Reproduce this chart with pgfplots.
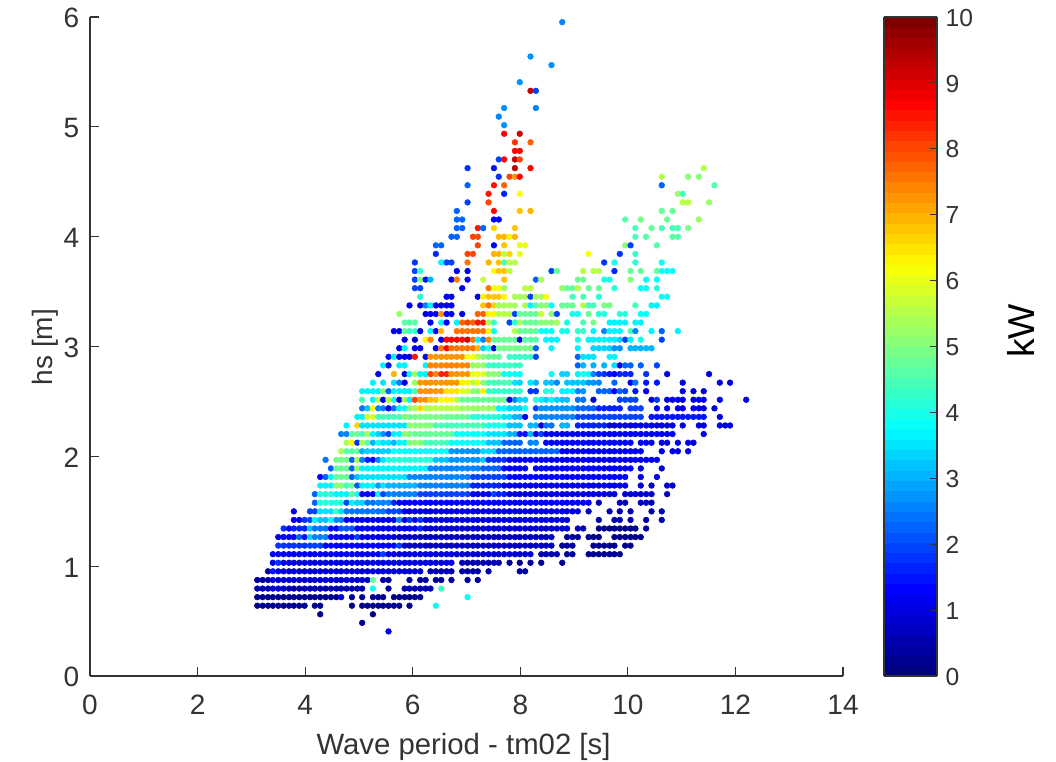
\documentclass[border=0pt]{standalone}
\usepackage{pgfplots}
\pgfplotsset{compat=1.18}
\usepackage{fontspec}
\setmainfont{Liberation Sans}
\definecolor{tx}{gray}{0.2}
\def\R#1#2{\addplot[d] table[y expr=#1]{#2};}
\pgfplotsset{colormap={jet}{rgb255(0cm)=(0,0,128) rgb255(1cm)=(0,0,255) rgb255(3cm)=(0,255,255) rgb255(5cm)=(255,255,0) rgb255(7cm)=(255,0,0) rgb255(8cm)=(128,0,0)}}
\begin{document}
\begin{tikzpicture}
\useasboundingbox (0,0) rectangle (792pt,570.75pt);
\begin{axis}[at={(67.5pt,63.75pt)},anchor=south west,scale only axis,width=564.75pt,height=494.25pt,
xmin=0,xmax=14,ymin=0,ymax=6,xtick={0,2,...,14},ytick={0,1,...,6},
axis lines*=left,tick align=inside,major tick length=6.4pt,
axis line style={color=tx,line width=1pt},tick style={color=tx,line width=0.8pt},
tick label style={font=\fontsize{21}{21}\selectfont,color=tx},
xticklabel style={yshift=-11pt},
yticklabel style={xshift=-4.5pt,yshift=-1pt},
/pgf/number format/assume math mode=true,
xlabel={Wave period - tm02 [s]},ylabel={hs [m]},
every axis x label/.style={at={(axis description cs:0.496,0)},anchor=base,yshift=-58.5pt,font=\fontsize{22}{22}\selectfont,color=tx},
every axis y label/.style={at={(axis description cs:0,0.499)},xshift=-27.75pt,rotate=90,anchor=base,font=\fontsize{21}{21}\selectfont,color=tx},
colormap={jetS}{samples of colormap=(64 of jet)},colormap access=piecewise constant,
point meta min=0,point meta max=10,
colorbar sampled,
colorbar style={at={(1.0544,0)},anchor=south west,width=39.75pt,height=494.25pt,samples=65,
 ytick={0,1,...,10},ylabel={kW},ytick pos=right,tick align=inside,major tick length=5.2pt,
 axis line style={color=tx,line width=0.8pt},tick style={color=tx,line width=0.8pt},
 every axis y label/.style={at={(axis description cs:1,0.5235)},xshift=73.5pt,rotate=90,anchor=base,font=\fontsize{28}{28}\selectfont,color=black},
 yticklabel style={font=\fontsize{18.5}{18.5}\selectfont,color=tx,xshift=3pt,yshift=-0.5pt},
 /pgf/number format/assume math mode=true},
table/row sep=crcr,table/header=false,
d/.style={scatter,only marks,mark=*,mark size=2.15pt,point meta=explicit,
 scatter/use mapped color={draw=mapped color,fill=mapped color},
 /pgfplots/table/meta index=1,/pgfplots/table/x index=0},
]
\R{.406}{5.55 1.1\\}
\R{.484}{5.06 .3\\}
\R{.562}{4.28 .3\\5.26 .3\\}
\R{.64}{3.11 .3\\3.21 .3\\3.31 .3\\3.4 .3\\3.5 .3\\3.6 .3\\3.7 .3\\3.79 .3\\3.89 .3\\3.99 .3\\4.18 .3\\4.28 .3\\4.87 .3\\5.06 .3\\5.16 .3\\5.26 .3\\5.36 .3\\5.45 .3\\5.55 .3\\5.65 .3\\5.75 .3\\5.94 .3\\6.43 3.8\\}
\R{.718}{3.11 .3\\3.21 .3\\3.31 .3\\3.4 .3\\3.5 .3\\3.6 .3\\3.7 .3\\3.79 .3\\3.89 .3\\3.99 .3\\4.09 .3\\4.18 .3\\4.28 .3\\4.38 .3\\4.48 .3\\4.58 .3\\4.67 1\\4.87 .3\\5.06 .3\\5.26 .3\\5.36 .3\\5.45 .3\\5.65 .3\\5.75 .3\\5.85 .3\\5.94 .3\\6.04 .3\\6.14 .3\\7.02 3.9\\}
\R{.796}{3.11 .5\\3.21 .5\\3.31 .5\\3.4 .8\\3.5 .8\\3.6 .8\\3.7 .5\\3.79 .5\\3.89 .5\\3.99 .5\\4.09 .5\\4.18 .5\\4.28 .5\\4.38 .5\\4.48 .5\\4.58 .5\\4.67 .5\\4.77 .5\\4.87 .5\\4.97 .5\\5.06 .5\\5.26 3.9\\5.55 .4\\5.85 .5\\5.94 .5\\6.04 .5\\6.14 .5\\6.24 .5\\6.33 .5\\6.53 4.3\\}
\R{.874}{3.11 .4\\3.21 .4\\3.31 .4\\3.4 .8\\3.5 .8\\3.6 .8\\3.7 .8\\3.79 .8\\3.89 .8\\3.99 .8\\4.09 .8\\4.18 .8\\4.28 .8\\4.38 .8\\4.48 .8\\4.58 .8\\4.67 .8\\4.77 .8\\4.87 .8\\4.97 .8\\5.06 .8\\5.16 .8\\5.26 4.7\\5.45 .4\\5.55 .4\\5.94 .4\\6.14 .4\\6.24 .4\\6.43 .4\\6.53 .4\\6.72 .4\\7.02 .4\\7.21 .4\\}
\R{.953}{3.31 .4\\3.4 1.5\\3.5 1.2\\3.6 .9\\3.7 .9\\3.79 .9\\3.89 .9\\3.99 .9\\4.09 .9\\4.18 .9\\4.28 .9\\4.38 .9\\4.48 .9\\4.58 .9\\4.67 .9\\4.77 .9\\4.87 .9\\4.97 .9\\5.06 .9\\5.16 .9\\5.26 .9\\5.36 .9\\5.45 .9\\5.55 .9\\5.65 .9\\5.75 .9\\5.85 .9\\5.94 .9\\6.04 .9\\6.14 .9\\6.33 .5\\6.43 .5\\6.53 .5\\6.63 .5\\6.72 .5\\6.92 .4\\7.02 .4\\7.12 .4\\7.21 .4\\7.41 .4\\7.99 .4\\8.09 .4\\}
\R{1.031}{3.4 1.2\\3.5 1.8\\3.6 1\\3.7 1\\3.79 1\\3.89 1\\3.99 1\\4.09 1\\4.18 1\\4.28 1\\4.38 1\\4.48 1\\4.58 1\\4.67 1\\4.77 1\\4.87 1\\4.97 1\\5.06 1\\5.16 1\\5.26 1\\5.36 1\\5.45 1\\5.55 1\\5.65 1\\5.75 1\\5.85 1\\5.94 1\\6.04 1\\6.14 1\\6.24 1\\6.33 1\\6.43 1\\6.53 1\\6.63 1\\6.72 1\\6.92 .5\\7.02 .5\\7.12 .5\\7.21 .5\\7.31 .5\\7.41 .5\\7.51 .5\\7.6 .5\\7.8 .3\\7.99 .3\\8.19 .3\\8.39 .3\\8.78 .3\\}
\R{1.109}{3.4 1.2\\3.5 1.2\\3.6 1.2\\3.7 1.2\\3.79 1.2\\3.89 1.2\\3.99 1.2\\4.09 1.2\\4.18 1.2\\4.28 1.2\\4.38 1.2\\4.48 1.2\\4.58 1.2\\4.67 1.2\\4.77 1.2\\4.87 1.2\\4.97 1.2\\5.06 1.2\\5.16 1.2\\5.26 1.2\\5.36 1.2\\5.45 2\\5.55 1\\5.65 1\\5.75 1\\5.85 1\\5.94 1\\6.04 1\\6.14 1\\6.24 1\\6.33 1\\6.43 1\\6.53 1\\6.63 1\\6.72 1\\6.82 .8\\6.92 .8\\7.02 .8\\7.12 .8\\7.21 .8\\7.31 .8\\7.41 .8\\7.51 .8\\7.6 .8\\7.7 .8\\7.8 .8\\7.9 .8\\7.99 .8\\8.09 .8\\8.19 .8\\8.39 .5\\8.48 .5\\8.58 .5\\8.68 .5\\8.87 .4\\8.97 .4\\9.27 .3\\9.36 .3\\9.46 .3\\9.56 .3\\9.66 .3\\9.75 .3\\9.85 .3\\}
\R{1.187}{3.5 1.8\\3.6 1.8\\3.7 1.8\\3.79 1.8\\3.89 1.8\\3.99 1.8\\4.09 2\\4.18 2\\4.28 2\\4.38 1.3\\4.48 1.3\\4.58 1.3\\4.67 1.3\\4.77 1.3\\4.87 1.3\\4.97 1.3\\5.06 1.3\\5.16 1.3\\5.26 1.3\\5.36 1.3\\5.45 1.3\\5.55 1.3\\5.65 1.3\\5.75 2\\5.85 .7\\5.94 .7\\6.04 .7\\6.14 .7\\6.24 .7\\6.33 .7\\6.43 .7\\6.53 .7\\6.63 .7\\6.72 .7\\6.82 .7\\6.92 .7\\7.02 .7\\7.12 .7\\7.21 .7\\7.31 .7\\7.41 .7\\7.51 .7\\7.6 .7\\7.7 .7\\7.8 .7\\7.9 .7\\7.99 .7\\8.09 .7\\8.19 .7\\8.29 .7\\8.39 .7\\8.48 .7\\8.58 .7\\8.78 .4\\8.87 .4\\8.97 .4\\9.36 .3\\9.46 .3\\9.56 .3\\9.66 .3\\9.75 .3\\9.95 .3\\10.05 .3\\}
\R{1.265}{3.5 1\\3.6 1.3\\3.7 1.3\\3.79 1.3\\3.89 2.3\\3.99 1.5\\4.09 3.3\\4.18 2.5\\4.28 2.5\\4.38 2.5\\4.48 1.3\\4.58 1.3\\4.67 1.3\\4.77 1.3\\4.87 1.3\\4.97 2\\5.06 1.2\\5.16 1.2\\5.26 1.2\\5.36 1.2\\5.45 1.2\\5.55 1.2\\5.65 1.2\\5.75 .7\\5.85 .7\\5.94 .7\\6.04 .7\\6.14 .7\\6.24 .7\\6.33 .7\\6.43 .7\\6.53 .7\\6.63 .7\\6.72 .7\\6.82 .7\\6.92 .7\\7.02 .7\\7.12 .7\\7.21 .7\\7.31 .7\\7.41 .7\\7.51 .7\\7.6 .7\\7.7 .7\\7.8 .7\\7.9 .7\\7.99 .7\\8.09 .7\\8.19 .7\\8.29 .7\\8.39 .7\\8.48 .7\\8.58 .7\\8.87 .4\\8.97 .4\\9.07 .4\\9.27 .3\\9.36 .3\\9.46 .3\\9.75 .3\\9.85 .3\\9.95 .3\\10.05 .3\\10.14 .3\\10.24 .3\\}
\R{1.343}{3.6 1.8\\3.7 1.1\\3.79 1.6\\3.89 1.6\\3.99 1.6\\4.09 3.2\\4.18 2.4\\4.28 2.4\\4.38 2.4\\4.48 1.3\\4.58 1.3\\4.67 2.1\\4.77 2.1\\4.87 2.1\\4.97 1.4\\5.06 1.4\\5.16 1.4\\5.26 1.4\\5.36 1.1\\5.45 1.1\\5.55 1.1\\5.65 1.1\\5.75 1.1\\5.85 1.1\\5.94 1.1\\6.04 1.1\\6.14 1.7\\6.24 .9\\6.33 .9\\6.43 .9\\6.53 .9\\6.63 .9\\6.72 .9\\6.82 .9\\6.92 .9\\7.02 .9\\7.12 .9\\7.21 .9\\7.31 .9\\7.41 .9\\7.51 .9\\7.6 .9\\7.7 .9\\7.8 .9\\7.9 .9\\7.99 .9\\8.09 .9\\8.19 .9\\8.29 .9\\8.39 .9\\8.48 .9\\8.58 .9\\8.68 .9\\8.78 .9\\8.87 .9\\9.07 .7\\9.17 .7\\9.46 .3\\9.56 .3\\9.66 .3\\9.75 .3\\9.85 .3\\9.95 .3\\10.05 .3\\10.14 .3\\10.34 .4\\}
\R{1.421}{3.79 1.1\\3.89 1.2\\3.99 1.8\\4.09 2\\4.18 3.6\\4.28 3.2\\4.38 3.2\\4.48 3.6\\4.58 2.6\\4.67 2.6\\4.77 1.2\\4.87 1.2\\4.97 1.2\\5.06 1.2\\5.16 1.2\\5.26 1.2\\5.36 1.2\\5.45 1.2\\5.55 1.2\\5.65 1.2\\5.75 2.5\\5.85 1\\5.94 1.8\\6.04 1.1\\6.14 1.8\\6.24 1\\6.33 1\\6.43 1\\6.53 1\\6.63 1\\6.72 1\\6.82 1\\6.92 1\\7.02 1\\7.12 1\\7.21 1\\7.31 1\\7.41 1\\7.51 1\\7.6 1\\7.7 1\\7.8 1\\7.9 1\\7.99 1\\8.09 1\\8.19 1\\8.29 1\\8.39 1\\8.48 1\\8.58 1\\8.68 1\\8.78 1\\8.87 1\\9.46 .5\\9.75 .5\\9.85 .5\\10.05 .5\\10.34 .5\\10.63 .5\\}
\R{1.499}{3.79 1.1\\4.09 2\\4.18 2\\4.28 3.5\\4.38 3.5\\4.48 3.5\\4.58 4.5\\4.67 3.5\\4.77 2.4\\4.87 2.4\\4.97 2.4\\5.06 2.4\\5.16 2.4\\5.26 2.4\\5.36 2.4\\5.45 2.4\\5.55 1.9\\5.65 1.9\\5.75 1.9\\5.85 1\\5.94 1\\6.04 1\\6.14 1\\6.24 1\\6.33 1\\6.43 1\\6.53 1\\6.63 1\\6.72 1\\6.82 1\\6.92 1\\7.02 1\\7.12 1\\7.21 1\\7.31 1\\7.41 1\\7.51 1\\7.6 1\\7.7 1\\7.8 1\\7.9 1\\7.99 1\\8.09 1\\8.19 1\\8.29 1\\8.39 1\\8.48 1\\8.58 1\\8.68 1\\8.78 1\\8.87 1\\8.97 1\\9.07 1\\9.27 .6\\9.66 .6\\9.85 .6\\10.05 .6\\10.44 .6\\10.63 .6\\}
\R{1.578}{4.18 2.2\\4.28 4.2\\4.38 4.2\\4.48 4.2\\4.58 4.2\\4.67 4.2\\4.77 2\\4.87 3.7\\4.97 3.3\\5.06 3.3\\5.16 2.4\\5.26 2.4\\5.36 2.6\\5.45 2.6\\5.55 2.6\\5.65 1.6\\5.75 1.1\\5.85 1.1\\5.94 1.1\\6.04 1.1\\6.14 1.1\\6.24 1.1\\6.33 1.1\\6.43 1.1\\6.53 1.1\\6.63 1.1\\6.72 1.1\\6.82 1.1\\6.92 1.1\\7.02 1.1\\7.12 1.1\\7.21 1.1\\7.31 1.1\\7.41 1.1\\7.51 1.1\\7.6 1.1\\7.7 1.1\\7.8 1.1\\7.9 1.1\\7.99 1.1\\8.09 1.1\\8.19 1.1\\8.29 1.1\\8.39 1.1\\8.48 1.1\\8.58 1.1\\8.68 1.1\\8.78 1.1\\8.87 1.1\\8.97 1.1\\9.07 1.1\\9.17 1.1\\9.27 1.1\\9.46 .7\\9.85 .7\\9.95 .7\\10.24 .7\\10.34 .7\\10.44 .7\\}
\R{1.656}{4.18 2.2\\4.28 4.2\\4.38 4.2\\4.48 4.2\\4.58 3.6\\4.67 3.6\\4.77 3.6\\4.87 4.8\\4.97 3.8\\5.06 1.3\\5.16 1.3\\5.26 1.3\\5.36 3.7\\5.45 2\\5.55 2.6\\5.65 2.6\\5.75 2.6\\5.85 2.6\\5.94 2.6\\6.04 2.6\\6.14 1.9\\6.24 1.9\\6.33 1.9\\6.43 1.9\\6.53 1.9\\6.63 1.9\\6.72 1.9\\6.82 1.9\\6.92 1.9\\7.02 1.9\\7.12 1.1\\7.21 1.1\\7.31 1.1\\7.41 1.1\\7.51 2\\7.6 1.6\\7.7 1.6\\7.8 1\\7.9 1\\7.99 1\\8.09 1\\8.19 1\\8.29 1\\8.39 1\\8.48 1\\8.58 1\\8.68 1\\8.78 1\\8.87 1\\8.97 1\\9.07 1\\9.17 1\\9.27 1\\9.36 1\\9.46 1\\9.56 1\\9.66 1\\9.75 1\\9.95 .8\\10.05 .8\\10.14 .8\\10.24 .8\\10.34 .8\\10.44 .8\\10.73 .7\\}
\R{1.734}{4.28 3.7\\4.38 3.7\\4.48 3.7\\4.58 5\\4.67 5\\4.77 4.5\\4.87 4.7\\4.97 2.1\\5.06 3.7\\5.16 3.7\\5.26 3.7\\5.36 2.7\\5.45 3.5\\5.55 3\\5.65 3\\5.75 3\\5.85 3\\5.94 3\\6.04 3\\6.14 2.6\\6.24 2.6\\6.33 2.6\\6.43 2.6\\6.53 2.6\\6.63 2.6\\6.72 2.6\\6.82 2.6\\6.92 2.6\\7.02 2.6\\7.12 1.7\\7.21 1.7\\7.31 1.7\\7.41 1.7\\7.51 1.7\\7.6 1.7\\7.7 1.2\\7.8 1.2\\7.9 1.2\\7.99 1.2\\8.09 1.2\\8.19 1.2\\8.29 1.2\\8.39 1.2\\8.48 1.2\\8.58 1.2\\8.68 1.2\\8.78 1.2\\8.87 1.2\\8.97 1.2\\9.07 1.2\\9.17 1.2\\9.27 1.2\\9.36 1.2\\9.46 1.2\\9.56 1.2\\9.66 1.2\\9.75 1.2\\9.85 1.2\\9.95 1.2\\10.24 .9\\10.44 .9\\10.73 .9\\10.83 .9\\}
\R{1.812}{4.28 1.3\\4.38 2.2\\4.48 3.6\\4.58 4.7\\4.67 4.7\\4.77 4.7\\4.87 2.3\\4.97 3.2\\5.06 3.5\\5.16 3.5\\5.26 3.5\\5.36 3.5\\5.45 3.5\\5.55 3.5\\5.65 3.5\\5.75 3.5\\5.85 3.5\\5.94 2.5\\6.04 2.5\\6.14 2.5\\6.24 2.5\\6.33 2.5\\6.43 2.5\\6.53 2.5\\6.63 2.5\\6.72 2.5\\6.82 2.5\\6.92 2.5\\7.02 2.5\\7.12 2\\7.21 2\\7.31 2\\7.41 2\\7.51 2\\7.6 2\\7.7 2\\7.8 1.3\\7.9 1.3\\7.99 1.3\\8.09 1.3\\8.19 1.3\\8.29 1.3\\8.39 1.3\\8.48 1.3\\8.58 1.3\\8.68 1.3\\8.78 1.3\\8.87 1.3\\8.97 1.3\\9.07 1.3\\9.17 1.3\\9.27 1.3\\9.36 1.3\\9.46 1.3\\9.56 1.3\\9.66 1.3\\9.75 1.3\\9.85 1.3\\9.95 1.3\\10.24 1\\10.54 1\\}
\R{1.89}{4.48 2.2\\4.58 4.8\\4.67 4.8\\4.77 4.8\\4.87 2.2\\4.97 5.2\\5.06 3.6\\5.16 3.6\\5.26 3.6\\5.36 3.6\\5.45 3.6\\5.55 3.6\\5.65 3.6\\5.75 3.6\\5.85 3.6\\5.94 3.6\\6.04 3.6\\6.14 3.6\\6.24 3.6\\6.33 2.5\\6.43 2.5\\6.53 2.5\\6.63 2.5\\6.72 2.5\\6.82 2.5\\6.92 2.5\\7.02 2.5\\7.12 2.5\\7.21 2.5\\7.31 2.2\\7.41 2.2\\7.51 2.2\\7.6 2.2\\7.7 1.4\\7.8 1.4\\7.9 1.4\\7.99 1.4\\8.09 1.4\\8.29 1.3\\8.39 1.3\\8.48 1.3\\8.58 1.3\\8.68 1.3\\8.78 1.3\\8.87 1.3\\8.97 1.3\\9.07 1.3\\9.17 1.3\\9.27 1.3\\9.36 1.3\\9.46 1.3\\9.56 1.3\\9.66 1.3\\9.75 1.3\\9.85 1.3\\9.95 1.3\\10.05 1.3\\10.24 1\\10.63 1\\}
\R{1.968}{4.38 2.4\\4.58 4.9\\4.67 4.9\\4.77 4.9\\4.87 2.3\\4.97 5.4\\5.06 2.5\\5.16 1.7\\5.26 1.3\\5.36 2.5\\5.45 3.5\\5.55 4.2\\5.65 4.2\\5.75 4.2\\5.85 4.2\\5.94 4.2\\6.04 4.2\\6.14 4.2\\6.24 4.2\\6.33 4.2\\6.43 3.2\\6.53 3.2\\6.63 3.2\\6.72 2.7\\6.82 2.7\\6.92 2.7\\7.02 2.7\\7.12 2.7\\7.21 2.7\\7.31 3.2\\7.41 1.8\\7.51 1.8\\7.6 1.8\\7.7 1.8\\7.8 1.2\\7.9 1.2\\7.99 1.2\\8.09 1.2\\8.19 1.2\\8.29 1.2\\8.39 1.2\\8.48 1.2\\8.58 1.2\\8.68 1.2\\8.78 1.2\\8.87 1.2\\8.97 1.2\\9.07 1.2\\9.17 1.2\\9.27 1.2\\9.36 1.2\\9.46 1.2\\9.56 1.2\\9.66 1.2\\9.75 1.2\\9.85 1.2\\9.95 1.2\\10.05 1.2\\10.14 1.2\\10.24 1.2\\10.34 1.2\\10.44 1.2\\10.54 1.2\\}
\R{2.046}{4.67 5.4\\4.77 4.6\\4.87 4.6\\4.97 4.8\\5.06 3\\5.16 3.4\\5.26 3.4\\5.36 3.4\\5.45 3.4\\5.55 3.4\\5.65 3.8\\5.75 3.8\\5.85 3.8\\5.94 3.8\\6.04 3.8\\6.14 3.8\\6.24 3.8\\6.33 3.8\\6.43 3.8\\6.53 3.8\\6.63 3.8\\6.72 2.8\\6.82 2.8\\6.92 2.8\\7.02 2.8\\7.12 2.8\\7.21 2.8\\7.31 3.4\\7.41 3.4\\7.51 3.4\\7.6 2.2\\7.7 2.2\\7.8 2.2\\7.9 2.2\\7.99 2.2\\8.09 2.2\\8.19 2.2\\8.29 2.2\\8.39 2.2\\8.48 2.2\\8.58 2.2\\8.68 2.2\\8.78 1.2\\8.87 1.2\\8.97 1.2\\9.07 1.2\\9.17 1.2\\9.27 1.2\\9.36 1.2\\9.46 1.2\\9.56 1.2\\9.66 1.2\\9.75 1.2\\9.85 1.2\\9.95 1.2\\10.05 1.2\\10.14 1.2\\10.24 1.2\\10.63 1\\10.83 1\\10.93 1\\11.12 1\\}
\R{2.124}{4.77 5.4\\4.87 6.3\\4.97 1.8\\5.06 5.4\\5.16 4.6\\5.26 3\\5.36 4\\5.45 3.5\\5.55 3.5\\5.65 3\\5.75 3.7\\5.85 3.7\\5.94 5\\6.04 5\\6.14 5\\6.24 4.5\\6.33 4.5\\6.43 4.5\\6.53 4.5\\6.63 4.5\\6.72 3.8\\6.82 3.8\\6.92 3.8\\7.02 3.8\\7.12 3.8\\7.21 3.8\\7.31 3.8\\7.41 3.2\\7.51 3.2\\7.6 3.2\\7.7 2.2\\7.8 2.2\\7.9 2.2\\7.99 2.2\\8.19 2.5\\8.29 2.5\\8.48 1.4\\8.58 1.4\\8.68 1.4\\8.78 1.4\\8.87 1.4\\8.97 1.4\\9.07 1.4\\9.17 1.4\\9.27 1.4\\9.36 1.4\\9.46 1.4\\9.56 1.4\\9.66 1.4\\9.75 1.4\\9.85 1.4\\9.95 1.4\\10.05 1.4\\10.24 1.2\\10.34 1.2\\10.44 1.2\\10.63 1\\10.73 1\\10.93 1\\11.12 1\\11.22 1\\}
\R{2.203}{4.67 2.5\\4.77 2.5\\4.87 4.8\\4.97 4.8\\5.06 4.4\\5.16 5.4\\5.26 3.6\\5.36 3.3\\5.45 2.8\\5.55 2\\5.65 3.7\\5.75 3.7\\5.85 5\\5.94 5\\6.04 4.8\\6.14 4.8\\6.24 4.8\\6.33 4.8\\6.43 4.8\\6.53 4.8\\6.63 4.8\\6.72 4.8\\6.82 3.8\\6.92 3.8\\7.02 3.8\\7.12 3.8\\7.21 3.8\\7.31 3.8\\7.41 3.5\\7.51 3.5\\7.6 3.5\\7.7 3.5\\7.8 3\\7.9 3\\7.99 1.5\\8.09 1.5\\8.19 3\\8.29 1\\8.39 2\\8.48 1.2\\8.58 1.2\\8.68 1.2\\8.78 1.2\\8.87 1.2\\8.97 1.2\\9.07 1.2\\9.17 1.2\\9.27 1.2\\9.36 1.2\\9.46 1.2\\9.56 1.2\\9.66 1.2\\9.75 1.2\\9.85 1.2\\9.95 1.2\\10.05 1.2\\10.14 1.2\\10.24 1.2\\10.34 1.2\\10.44 1.2\\10.54 1.2\\10.63 1.2\\10.73 1.2\\10.83 1.2\\11.41 1\\}
\R{2.281}{4.77 3.7\\4.97 6.7\\5.06 3.5\\5.16 3.5\\5.26 3.5\\5.36 3.5\\5.45 3.5\\5.55 3.5\\5.65 3.5\\5.75 3.5\\5.85 3.5\\5.94 5\\6.04 5\\6.14 5\\6.24 5\\6.33 5\\6.43 4.5\\6.53 4.5\\6.63 4.5\\6.72 4.5\\6.82 4.5\\6.92 4.5\\7.02 4.5\\7.12 4.5\\7.21 4.5\\7.31 4.5\\7.41 4\\7.51 4\\7.6 4\\7.7 4\\7.8 3.2\\7.9 3.2\\7.99 3.2\\8.19 3\\8.29 3\\8.39 .8\\8.48 2.4\\8.58 2.4\\8.78 3\\8.87 3\\9.07 1.7\\9.17 1.7\\9.27 1.7\\9.36 1.7\\9.46 1.7\\9.56 1.7\\9.66 1.1\\9.75 1.1\\9.85 1.1\\9.95 1.1\\10.05 1.1\\10.14 1.1\\10.24 1.1\\10.34 1.1\\10.44 1.1\\10.54 1.1\\10.63 1.1\\10.73 1.1\\10.83 1.1\\11.02 1\\11.32 1\\11.41 1\\11.71 1\\11.81 1\\11.9 1\\}
\R{2.359}{4.97 3.7\\5.06 3.7\\5.16 5.8\\5.26 5.8\\5.36 4.4\\5.45 4.4\\5.55 4.4\\5.65 4.4\\5.75 4.4\\5.85 4.9\\5.94 4.9\\6.04 4.9\\6.14 4.9\\6.24 4.9\\6.33 4.9\\6.43 4.9\\6.53 4.9\\6.63 4.7\\6.72 4.7\\6.82 4.7\\6.92 4.7\\7.02 4.7\\7.12 4.1\\7.21 4.1\\7.31 4.1\\7.41 4.1\\7.51 4.1\\7.6 4.1\\7.7 3.5\\7.8 3.5\\7.9 3\\7.99 3\\8.09 1.2\\8.29 2.6\\8.39 2.6\\8.48 2.6\\8.58 2.6\\8.68 2.6\\8.78 2.6\\8.87 2.6\\8.97 2.6\\9.07 2\\9.17 2\\9.27 2\\9.36 2\\9.46 2\\9.56 2\\9.66 2\\9.75 2\\9.85 2\\9.95 2\\10.05 2\\10.14 2\\10.24 2\\10.44 1.5\\10.54 1.5\\10.63 1.5\\10.73 1.5\\10.83 1.5\\10.93 1.5\\11.02 1.5\\11.12 1.5\\11.22 1.5\\11.32 1.5\\11.41 1.5\\11.71 1\\}
\R{2.437}{5.06 2.4\\5.16 3.2\\5.26 6.1\\5.36 2.5\\5.45 2.5\\5.55 1.2\\5.65 2.4\\5.75 3.6\\5.85 3.8\\5.94 5\\6.04 5.4\\6.14 6.6\\6.24 5.6\\6.33 5.6\\6.43 5.6\\6.53 5.6\\6.63 5.6\\6.72 5.6\\6.82 5.6\\6.92 5.3\\7.02 5.3\\7.12 5.3\\7.21 5.3\\7.31 5.3\\7.41 5.3\\7.51 5.3\\7.6 3.7\\7.7 3.7\\7.8 3.3\\7.9 3.3\\7.99 3.3\\8.09 3.8\\8.29 2\\8.39 2.7\\8.48 2.7\\8.58 2.7\\8.68 2.7\\8.78 2.7\\8.87 2.7\\8.97 2.7\\9.07 2.2\\9.17 2.2\\9.27 2.2\\9.36 2.2\\9.46 1.7\\9.56 1.7\\9.66 1.7\\9.75 1.7\\9.85 1.7\\10.05 2\\10.14 2\\10.24 2\\10.54 1.1\\10.73 1.1\\10.93 1\\11.02 1\\11.22 1\\11.32 1\\11.41 1\\11.61 1\\}
\R{2.515}{5.06 4.5\\5.26 3.7\\5.36 5.5\\5.45 1.1\\5.55 5.5\\5.65 3.8\\5.75 1\\5.85 5.4\\5.94 3.6\\6.04 8\\6.14 7.3\\6.24 7.3\\6.33 6.8\\6.43 6.8\\6.53 6\\6.63 6.3\\6.72 6.3\\6.82 5.6\\6.92 4.7\\7.02 4.7\\7.12 4.7\\7.21 4.7\\7.31 4.7\\7.41 4.7\\7.51 4.7\\7.6 4.7\\7.7 4.7\\7.8 1.1\\7.9 2.5\\7.99 3.4\\8.09 3.4\\8.29 4.2\\8.39 3.6\\8.48 3.4\\8.58 3.6\\8.68 3.4\\8.78 3.2\\8.87 3.2\\9.07 2.4\\9.17 2.4\\9.36 1\\9.85 2\\9.95 2\\10.05 2\\10.14 2\\10.44 1\\10.54 1.8\\10.73 1.1\\10.83 1.1\\10.93 1.1\\11.02 1.1\\11.22 1.1\\11.32 1.1\\11.41 1.1\\11.71 1.1\\12.2 1\\}
\R{2.593}{5.06 3.6\\5.16 3.6\\5.26 3.6\\5.36 3.6\\5.45 5\\5.55 2.2\\5.65 3.6\\5.75 3.6\\5.85 3.7\\5.94 3.6\\6.04 4.5\\6.14 7.2\\6.24 7.2\\6.33 7.2\\6.43 7.2\\6.53 7.2\\6.63 6.5\\6.72 6.5\\6.82 6.5\\6.92 5.9\\7.02 5.9\\7.12 5\\7.21 5\\7.31 6.3\\7.41 4.3\\7.51 4.3\\7.6 4.3\\7.7 4.3\\7.8 4.3\\7.9 4.3\\7.99 4.3\\8.19 1.8\\8.29 1.8\\8.48 4.2\\8.58 4.2\\8.78 3.7\\8.87 3.7\\8.97 3.7\\9.07 2.5\\9.17 2.8\\9.46 2.2\\9.56 2.2\\9.66 2.2\\9.75 1.3\\9.85 2.2\\9.95 2\\10.14 1.5\\10.34 1.2\\11.02 1\\11.22 1\\11.41 1\\}
\R{2.671}{5.26 3.7\\5.45 3.5\\5.65 3.5\\5.75 2.5\\5.85 1\\6.04 5.3\\6.14 7.2\\6.24 7.2\\6.33 7.2\\6.43 7.2\\6.53 7.2\\6.63 7.2\\6.72 7.2\\6.82 7.2\\6.92 6.3\\7.02 6.3\\7.12 5.5\\7.21 6\\7.31 5\\7.41 4.5\\7.51 4.5\\7.6 4.5\\7.7 4.5\\7.8 4.5\\7.9 3.5\\7.99 3.4\\8.19 3.5\\8.29 3\\8.48 3.2\\8.58 3.2\\8.68 2.5\\8.87 3.2\\8.97 3.2\\9.07 3.2\\9.17 3.2\\9.27 2.8\\9.36 2.8\\9.46 2.5\\9.75 2.2\\10.05 1.2\\10.14 2.4\\10.34 1.5\\10.54 1.5\\11.02 1\\11.71 1\\11.9 1\\}
\R{2.749}{5.36 1.1\\5.65 6.9\\5.85 1\\5.94 3.6\\6.04 5.2\\6.14 3.7\\6.24 3.7\\6.33 8\\6.43 7.4\\6.53 8.3\\6.63 8.3\\6.72 7.3\\6.82 7.3\\6.92 7.3\\7.02 7.3\\7.12 6\\7.21 6\\7.31 6\\7.41 5\\7.51 5\\7.6 5\\7.7 3.8\\7.8 3.8\\7.9 3.8\\7.99 3.8\\8.58 3.8\\8.78 3.4\\8.87 3.4\\9.07 3.7\\9.17 4\\9.27 3.8\\9.36 2.6\\9.46 2\\9.56 1.8\\9.66 1.5\\9.75 1.3\\9.85 1.7\\9.95 1.7\\10.05 1.7\\10.34 1.8\\10.73 1.1\\11.51 1\\}
\R{2.828}{5.45 3.6\\5.55 1.5\\5.75 3.6\\5.85 3.6\\6.24 3.6\\6.33 7.4\\6.43 7.4\\6.53 7.4\\6.63 7.4\\6.72 7.4\\6.82 7.4\\6.92 7.4\\7.02 7.4\\7.12 5.2\\7.21 5.2\\7.31 5.2\\7.41 4.3\\7.51 4.3\\7.6 4.3\\7.7 4.3\\7.8 4.3\\7.9 4.3\\7.99 4.3\\9.07 2.2\\9.17 3\\9.36 3\\9.56 3\\9.75 3.5\\9.85 1.1\\9.95 2.3\\10.05 2.3\\10.24 2.3\\10.54 2\\}
\R{2.906}{5.55 1.5\\5.65 3.6\\5.75 1.1\\5.85 1.1\\5.94 1.1\\6.04 8.5\\6.24 1.1\\6.33 7.3\\6.43 7.3\\6.53 7.3\\6.63 7.3\\6.72 7.3\\6.82 7.3\\6.92 7.3\\7.02 6.2\\7.12 6.2\\7.21 5.5\\7.31 5\\7.41 4.7\\7.51 4.7\\7.6 4.7\\7.8 4.3\\7.9 4.3\\7.99 4.3\\8.09 4.3\\8.19 4.3\\8.29 2\\9.07 2.2\\9.17 3.5\\9.27 3.5\\9.36 3.5\\9.66 3.7\\9.75 3.7\\}
\R{2.984}{5.75 1.1\\5.85 3.6\\6.04 1\\6.14 1\\6.43 1\\6.53 7.5\\6.63 8.6\\6.72 7.6\\6.82 7.6\\6.92 7.6\\7.02 7.6\\7.12 7.6\\7.21 7\\7.31 3.3\\7.41 4.2\\7.51 1\\7.6 4.9\\7.7 4.9\\7.8 4.9\\7.9 4.9\\7.99 4.9\\8.09 4.9\\8.19 4.9\\8.29 2.2\\8.58 3.7\\9.07 3.6\\9.36 3.4\\9.46 3.4\\9.56 3.4\\9.66 3.4\\9.75 2.8\\9.85 2.8\\10.05 3\\10.14 3\\10.24 3\\10.34 3\\10.44 3\\}
\R{3.062}{5.85 1\\6.04 1\\6.24 6.4\\6.33 7.4\\6.53 1\\6.63 8.6\\6.72 8.6\\6.82 8.6\\6.92 8.6\\7.02 9.2\\7.12 7.5\\7.21 3.7\\7.31 2.5\\7.41 7.4\\7.51 4.7\\7.6 4.7\\7.7 4.7\\7.8 4.7\\7.9 4.7\\7.99 1\\8.09 4.6\\8.19 4.6\\8.29 4.6\\8.48 3.7\\8.58 3.7\\8.68 3.7\\9.07 4\\9.27 3.6\\9.36 3.6\\9.46 3.6\\9.56 3.6\\9.66 3.6\\9.75 3.6\\9.85 3.4\\9.95 2\\10.05 3.6\\10.24 4\\10.63 2\\}
\R{3.14}{5.65 1.2\\5.75 1.2\\5.85 4.7\\5.94 4.3\\6.04 4.3\\6.14 1\\6.33 3.7\\6.43 1.2\\6.53 7\\6.82 7.5\\6.92 7.5\\7.02 7.5\\7.12 7.5\\7.21 7.5\\7.31 7.5\\7.41 6.4\\7.51 3.8\\7.9 5.6\\7.99 4.7\\8.09 4.7\\8.19 4.7\\8.29 4.7\\8.39 3.8\\8.48 3.8\\8.58 3.8\\8.78 4\\8.87 4\\9.07 4.3\\9.17 4.3\\9.36 3.7\\9.56 2.5\\9.66 3.6\\9.75 3.6\\9.85 3.6\\10.05 4.4\\10.14 2.5\\10.44 3.6\\10.63 2.3\\10.93 3.6\\}
\R{3.218}{5.85 4.6\\5.94 4.6\\6.04 4.6\\6.33 1\\6.53 3.7\\6.63 1.1\\6.82 3.7\\6.92 7.8\\7.02 8\\7.12 7.7\\7.21 8.5\\7.31 8.5\\7.41 5.4\\7.51 4.3\\7.8 2\\7.9 4.2\\7.99 5.4\\8.09 4.8\\8.19 4.8\\8.29 4.8\\8.39 5\\8.48 5\\8.58 5\\8.68 5.4\\8.87 4\\9.17 4.5\\9.36 4.9\\9.66 3.7\\9.75 3.7\\9.85 3.7\\9.95 3.7\\10.14 3.6\\10.24 3.6\\}
\R{3.296}{5.75 5.3\\6.24 1.1\\6.33 1.1\\6.43 1.1\\6.53 7.3\\6.63 1.1\\6.72 1.1\\6.92 1.1\\7.21 7.8\\7.31 7.8\\7.41 6.4\\7.51 6.4\\7.6 5.5\\7.7 5.5\\7.8 5.5\\7.9 2\\7.99 4.8\\8.09 4.8\\8.19 4.8\\8.29 4.8\\8.39 5.7\\8.58 5\\8.68 2\\8.97 4\\9.07 4\\9.27 4.8\\9.46 4.2\\9.56 4.2\\9.85 4.2\\9.95 4.2\\10.24 3.8\\10.34 3.8\\}
\R{3.374}{5.94 1.2\\6.14 1.2\\6.24 2.5\\6.33 3.7\\6.43 1.1\\6.53 1.1\\6.63 1.1\\6.72 1.1\\7.31 6.8\\7.41 7.5\\7.51 6.6\\7.6 5.4\\7.7 5.4\\7.8 5.4\\7.9 5.4\\8.09 5.4\\8.19 3.6\\8.29 4.6\\8.39 5\\8.48 5\\8.58 3.8\\8.78 4.7\\8.87 4.7\\8.97 4.7\\9.17 5.6\\9.27 4.4\\9.36 4.4\\9.56 4.9\\9.66 4.9\\10.14 4.4\\10.44 3.7\\10.54 3.7\\}
\R{3.453}{6.14 4.2\\6.63 1.1\\6.72 1.1\\7.21 1.1\\7.31 6.4\\7.41 6.8\\7.51 6.8\\7.6 6.8\\7.7 6.3\\7.9 5.4\\7.99 5.4\\8.09 5.4\\8.19 2\\8.29 5.4\\8.39 5.4\\8.48 6.2\\8.97 4.4\\9.17 4.4\\9.46 4.2\\10.63 3.8\\10.73 3.8\\}
\R{3.531}{6.04 2\\6.14 2\\6.92 1.1\\7.41 7.5\\7.51 6.2\\7.6 6.2\\7.7 5.2\\8.09 5.5\\8.19 5.5\\8.78 5.3\\8.87 4.8\\8.97 4.8\\9.07 5.5\\9.27 4.7\\9.46 4.7\\9.75 4.2\\10.24 3.8\\10.34 3.8\\10.54 4.2\\}
\R{3.609}{6.04 2\\6.14 5\\6.24 1.5\\6.33 3\\6.72 1.1\\6.82 7.6\\7.02 1.1\\7.31 5.7\\7.7 6.8\\8.29 2.2\\8.39 5.4\\9.07 4.7\\9.17 4.7\\9.56 4\\9.66 4\\10.05 5\\10.34 3.8\\10.54 3.8\\}
\R{3.687}{6.04 2\\6.14 4.3\\6.82 1.2\\7.02 1.1\\7.51 6.2\\7.6 6.8\\7.7 6.8\\7.8 5.6\\8.58 2\\8.68 4.7\\9.17 5.6\\9.36 5.6\\9.46 5.6\\9.75 1.7\\10.05 4.7\\10.24 4.7\\10.54 4.7\\10.63 3.8\\10.73 3.8\\10.83 3.8\\}
\R{3.765}{6.04 1.8\\6.53 3.7\\6.63 2\\6.72 2\\7.02 7.5\\7.41 7\\7.6 6.8\\7.7 4.4\\7.8 5.5\\7.9 5.5\\9.56 1.8\\9.75 4\\10.14 4.2\\10.63 3.9\\}
\R{3.843}{6.43 1.6\\7.02 8\\7.12 8\\7.51 7\\7.6 7\\7.7 5.6\\7.8 6.7\\7.99 6\\9.27 6.1\\9.85 1.8\\10.14 4.3\\}
\R{3.921}{6.43 2.2\\6.53 2.2\\7.21 8.1\\7.51 1.2\\7.7 6.8\\7.99 6\\8.09 6\\9.95 5\\10.05 2\\10.54 4.6\\}
\R{3.999}{6.72 2.2\\6.82 2.2\\7.12 8.1\\7.21 8.1\\7.6 7\\7.7 7\\7.8 6.3\\7.9 7\\10.14 4.5\\10.34 4.6\\10.83 4.6\\10.93 4.6\\}
\R{4.078}{6.82 2.2\\6.92 2.2\\7.21 8.5\\7.31 2.2\\7.51 6.7\\7.9 6.8\\10.14 4.5\\10.44 4.8\\10.63 4.4\\10.83 4.5\\10.93 4.5\\11.12 4.9\\}
\R{4.156}{6.82 2.2\\6.92 2.2\\7.51 1.3\\7.6 1.3\\9.95 4.6\\10.24 4.9\\10.73 4.8\\11.32 5.2\\}
\R{4.234}{6.82 2.2\\7.51 8.7\\7.99 6.8\\8.19 6.9\\10.63 4.7\\10.83 4.8\\}
\R{4.312}{7.02 1.9\\7.41 8\\11.02 5.5\\11.12 5.5\\11.51 5.2\\}
\R{4.39}{7.41 8.5\\7.7 1.6\\7.99 6.2\\10.93 5.3\\11.02 4.5\\}
\R{4.468}{7.02 2.3\\7.51 8.5\\7.7 7.8\\10.63 2.3\\11.61 4.6\\}
\R{4.546}{7.6 1.8\\7.8 8\\7.9 7.2\\7.99 8.7\\10.63 5.6\\11.12 5\\11.32 5\\}
\R{4.624}{7.02 1.8\\7.51 1.5\\7.9 9.3\\8.19 8.7\\11.41 5.6\\}
\R{4.703}{7.6 2\\7.7 8.7\\7.9 9.3\\7.99 8\\}
\R{4.781}{7.9 8.7\\7.99 8.7\\}
\R{4.859}{7.9 8.2\\8.19 7.7\\}
\R{4.937}{7.7 8.7\\7.99 9.2\\}
\R{5.015}{7.7 2.7\\}
\R{5.093}{7.6 2.6\\}
\R{5.171}{7.7 2.7\\8.29 2.6\\}
\R{5.328}{8.19 9.3\\8.29 2\\}
\R{5.406}{7.99 2.8\\}
\R{5.562}{8.58 2.7\\}
\R{5.64}{8.19 2.7\\}
\R{5.953}{8.78 2.6\\}
\end{axis}
\end{tikzpicture}
\end{document}
